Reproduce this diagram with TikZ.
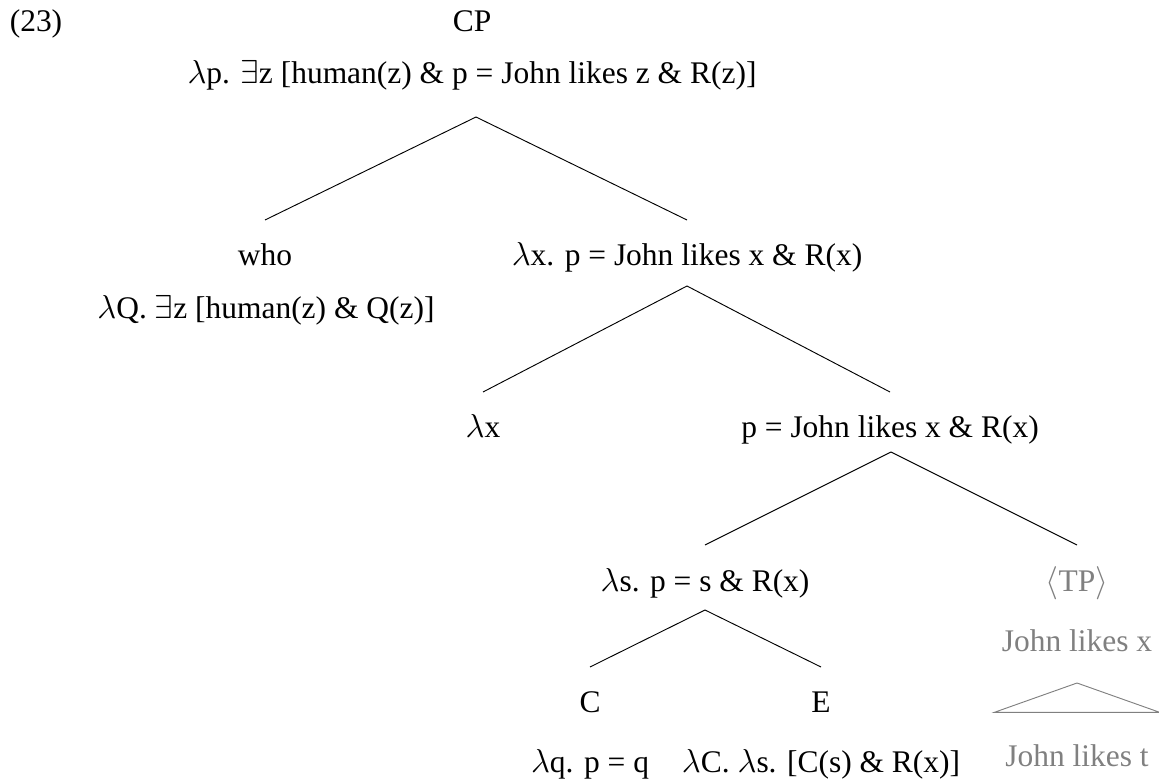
\documentclass[tikz,border=0pt]{standalone}
\usepackage{fontspec}
\setmainfont{Liberation Serif}
\usepackage{amsmath}
\usepackage{amssymb}

\begin{document}
\begin{tikzpicture}[x=0.75pt,y=-0.75pt,line width=0.7pt,
  every node/.style={font=\fontsize{23.6}{28}\selectfont, inner sep=0pt, anchor=base},
  trace/.style={text=black!50}]
  \useasboundingbox (0,0) rectangle (1159,781);
  \node (ex) at (36,32) {(23)};
  \node (cp) at (472,32) {CP};
  \node (cpsem) at (472,84) {$\lambda$p. $\exists$z [human(z) \& p = John likes z \& R(z)]};
  \node (who) at (265,265) {who};
  \node (whosem) at (266,318) {$\lambda$Q. $\exists$z [human(z) \& Q(z)]};
  \node (cbar) at (687,265) {$\lambda$x. p = John likes x \& R(x)};
  \node (lx) at (483,437) {$\lambda$x};
  \node (tp) at (890,437) {p = John likes x \& R(x)};
  \node (cs) at (705,591) {$\lambda$s. p = s \& R(x)};
  \node[trace] (tr) at (1077,591) {$\langle$TP$\rangle$};
  \node[trace] (trsem) at (1077,651) {John likes x};
  \node[trace] (trbot) at (1077,766) {John likes t};
  \node (c) at (590,712) {C};
  \node (e) at (821,712) {E};
  \node (csem) at (590,772) {$\lambda$q. p = q};
  \node (esem) at (821,772) {$\lambda$C. $\lambda$s. [C(s) \& R(x)]};
  \coordinate (a1) at (476,117);
  \coordinate (a2) at (687,286);
  \coordinate (a3) at (891,452);
  \coordinate (a4) at (705,610);
  \draw (a1) -- ([yshift=33.75pt]who.base);
  \draw (a1) -- ([yshift=33.75pt]cbar.base);
  \draw (a2) -- ([yshift=33.75pt]lx.base);
  \draw (a2) -- ([yshift=33.75pt]tp.base);
  \draw (a3) -- ([yshift=34.5pt]cs.base);
  \draw (a3) -- ([yshift=34.5pt]tr.base);
  \draw (a4) -- ([yshift=33.75pt]c.base);
  \draw (a4) -- ([yshift=33.75pt]e.base);
  \draw[black!50] ([yshift=-24pt]trsem.base) -- ([xshift=-62pt,yshift=-46pt]trsem.base)
    -- ([xshift=62pt,yshift=-46pt]trsem.base) -- cycle;
\end{tikzpicture}
\end{document}
